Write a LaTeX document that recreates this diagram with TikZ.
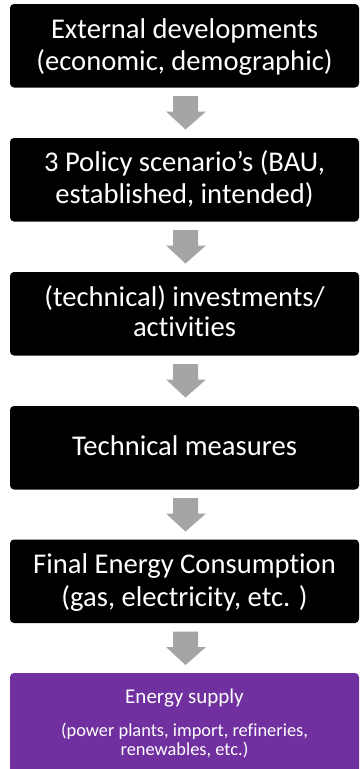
\documentclass[tikz,border=0pt]{standalone}
\usepackage{fontspec}
\setmainfont{Carlito}[Ligatures=NoCommon]
\usetikzlibrary{calc}
\definecolor{flowgray}{HTML}{A5A5A5}
\definecolor{supplypurple}{HTML}{7030A0}
\tikzset{
  stagebox/.style={rectangle, rounded corners=4pt, fill=black, draw=none,
    minimum width=349pt, minimum height=83.5pt, inner sep=0pt, outer sep=0pt},
  supplybox/.style={stagebox, fill=supplypurple, minimum height=110pt},
  stagetext/.style={anchor=base, text=white, inner sep=0pt,
    font=\fontsize{28.6}{33}\selectfont},
  supplytitle/.style={anchor=base, text=white, inner sep=0pt,
    font=\fontsize{21}{24}\selectfont},
  supplytext/.style={anchor=base, text=white, inner sep=0pt,
    font=\fontsize{18.4}{22}\selectfont},
  flowarrow/.style={fill=flowgray, draw=none}
}
% block arrow hanging below a box
\newcommand{\flowdown}[1]{%
  \fill[flowarrow] ($(#1.south)+(-11.5,8.5)$) -- ($(#1.south)+(13.5,8.5)$)
    -- ($(#1.south)+(13.5,24)$) -- ($(#1.south)+(21.5,24)$)
    -- ($(#1.south)+(1,42)$) -- ($(#1.south)+(-18.5,24)$)
    -- ($(#1.south)+(-11.5,24)$) -- cycle;}
\begin{document}
\begin{tikzpicture}[x=1pt,y=-1pt]
  \useasboundingbox (0,0) rectangle (360,769);
  \clip (0,0) rectangle (360,769);
  \fill[white] (0,0) rectangle (360,769);

  % stages
  \node[stagebox] (b1) at (184.5,45.75) {};
  \node[stagebox] (b2) at (184.5,179.75) {};
  \node[stagebox] (b3) at (184.5,313.75) {};
  \node[stagebox] (b4) at (184.5,447.75) {};
  \node[stagebox] (b5) at (184.5,581.25) {};
  \node[supplybox, anchor=north] (b6) at (184.5,673) {};

  % stage labels
  \node[stagetext] (t1a) at ($(b1.center)+(0,-7.5)$) {External developments};
  \node[stagetext] (t1b) at ($(b1.center)+(0,25)$) {(economic, demographic)};
  \node[stagetext] (t2a) at ($(b2.center)+(0,-8)$) {3 Policy scenario’s (BAU,};
  \node[stagetext] (t2b) at ($(b2.center)+(0,23.5)$) {established, intended)};
  \node[stagetext] (t3a) at ($(b3.center)+(0,-7)$) {(technical) investments/};
  \node[stagetext] (t3b) at ($(b3.center)+(0,23)$) {activities};
  \node[stagetext] (t4)  at ($(b4.center)+(0,7.5)$) {Technical measures};
  \node[stagetext] (t5a) at ($(b5.center)+(0,-8)$) {Final Energy Consumption};
  \node[stagetext] (t5b) at ($(b5.center)+(0,25.5)$) {(gas, electricity, etc. )};

  \node[supplytitle] (t6a) at ($(b6.north)+(0,30)$) {Energy supply};
  \node[supplytext] (t6b) at ($(b6.north)+(0,63.7)$) {(power plants, import, refineries,};
  \node[supplytext] (t6c) at ($(b6.north)+(0,82)$) {renewables, etc.)};

  % flow arrows between stages
  \flowdown{b1}
  \flowdown{b2}
  \flowdown{b3}
  \flowdown{b4}
  \flowdown{b5}
\end{tikzpicture}
\end{document}
